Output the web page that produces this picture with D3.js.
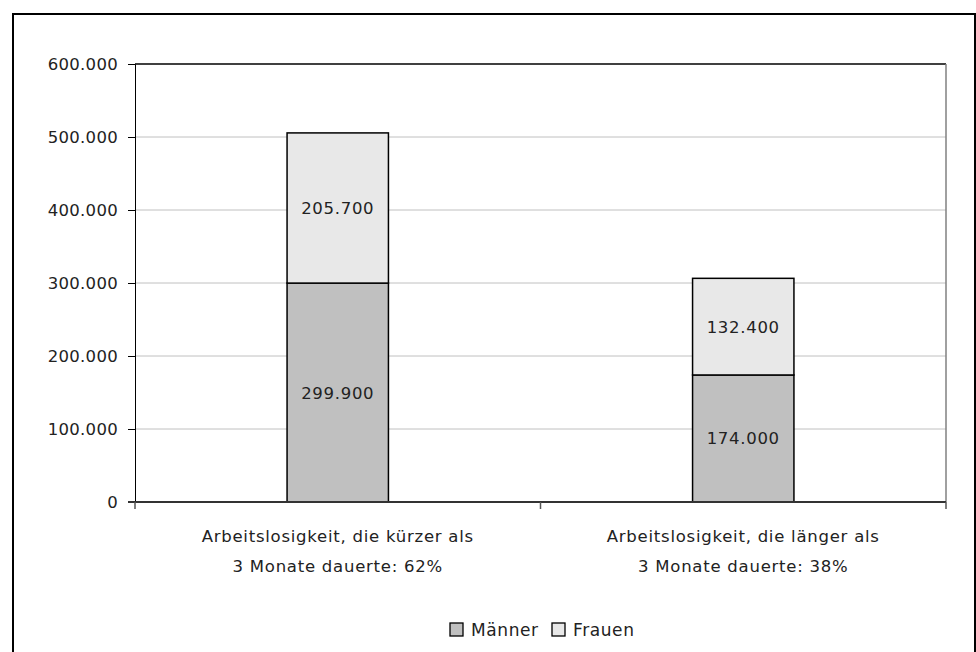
<!DOCTYPE html>
<html>
<head>
<meta charset="utf-8">
<script src="https://cdn.jsdelivr.net/npm/d3@7.9.0/dist/d3.min.js"></script>
<style>
  body { margin: 0; background: #fff; }
  svg { display: block; font-family: "DejaVu Sans", "Liberation Sans", sans-serif; }
</style>
</head>
<body>
<svg id="chart" width="976" height="652"></svg>
<script>
// categories and series values
const categories = [
  ["Arbeitslosigkeit, die kürzer als", "3 Monate dauerte: 62%"],
  ["Arbeitslosigkeit, die länger als", "3 Monate dauerte: 38%"],
];
const maenner = [299900, 174000];
const frauen = [205700, 132400];
const seriesNames = ["Männer", "Frauen"];
const yTicks = [0, 100000, 200000, 300000, 400000, 500000, 600000];

const colors = ["#c0c0c0", "#e8e8e8"];
const fmt = (v) => d3.format(",")(v).replace(/,/g, ".");
const fontFam = "'DejaVu Sans', 'Liberation Sans', sans-serif";

const svg = d3.select("#chart");

// outer frame (open at the bottom)
svg.append("path")
  .attr("d", "M13,652 V14 H975 V652")
  .attr("fill", "none")
  .attr("stroke", "#000")
  .attr("stroke-width", 2);

const plotL = 135, plotR = 946, plotT = 64, plotB = 502;

const x = d3.scaleBand().domain(d3.range(categories.length)).range([plotL, plotR]);
const y = d3.scaleLinear().domain([0, 600000]).range([plotB, plotT]);

// gridlines
svg.append("g")
  .selectAll("line")
  .data(yTicks.slice(1, -1))
  .join("line")
  .attr("x1", plotL).attr("x2", plotR)
  .attr("y1", (d) => y(d)).attr("y2", (d) => y(d))
  .attr("stroke", "#c0c0c0");

// plot frame top + right
svg.append("line").attr("x1", plotL).attr("x2", plotR).attr("y1", plotT).attr("y2", plotT)
  .attr("stroke", "#000").attr("stroke-width", 1.5);
svg.append("line").attr("x1", plotR).attr("x2", plotR).attr("y1", plotT).attr("y2", plotB)
  .attr("stroke", "#808080").attr("stroke-width", 1.5);

// y axis
const yAxis = svg.append("g")
  .attr("transform", `translate(${plotL},0)`)
  .call(d3.axisLeft(y).tickValues(yTicks).tickFormat(fmt).tickSize(7).tickPadding(10));
yAxis.selectAll("path,line").attr("stroke", "#000");
yAxis.selectAll("text").attr("fill", "#222")
  .style("font-family", fontFam).style("font-size", "16.5px").style("letter-spacing", "0.3px");

// stacked bars
const stackData = categories.map((c, i) => ({ i, m: maenner[i], f: frauen[i] }));
const stack = d3.stack().keys(["m", "f"])(stackData);
const barW = x.bandwidth() * 0.25;

stack.forEach((layer, k) => {
  const g = svg.append("g");
  g.selectAll("rect")
    .data(layer)
    .join("rect")
    .attr("x", (d) => x(d.data.i) + (x.bandwidth() - barW) / 2)
    .attr("y", (d) => y(d[1]))
    .attr("width", barW)
    .attr("height", (d) => y(d[0]) - y(d[1]))
    .attr("fill", colors[k])
    .attr("stroke", "#000")
    .attr("stroke-width", 1.5);
  g.selectAll("text")
    .data(layer)
    .join("text")
    .attr("x", (d) => x(d.data.i) + x.bandwidth() / 2)
    .attr("y", (d) => (y(d[0]) + y(d[1])) / 2 + 6)
    .attr("text-anchor", "middle")
    .style("font-size", "16.5px")
    .style("letter-spacing", "0.7px")
    .attr("fill", "#222")
    .text((d) => fmt(d[1] - d[0]));
});

// x axis
svg.append("line").attr("x1", plotL - 7).attr("x2", plotR).attr("y1", plotB).attr("y2", plotB)
  .attr("stroke", "#333").attr("stroke-width", 2);
svg.append("g")
  .selectAll("line")
  .data(d3.range(categories.length + 1))
  .join("line")
  .attr("x1", (d) => plotL + d * x.step()).attr("x2", (d) => plotL + d * x.step())
  .attr("y1", plotB).attr("y2", plotB + 7)
  .attr("stroke", "#555").attr("stroke-width", 1.5);

svg.append("g")
  .selectAll("text")
  .data(categories)
  .join("text")
  .attr("text-anchor", "middle")
  .style("font-size", "16.5px")
  .style("letter-spacing", "0.75px")
  .attr("fill", "#222")
  .each(function (d, i) {
    d3.select(this).selectAll("tspan")
      .data(d)
      .join("tspan")
      .attr("x", x(i) + x.bandwidth() / 2)
      .attr("y", (t, j) => 542 + j * 30)
      .text((t) => t);
  });

// legend
const legend = svg.append("g").attr("transform", "translate(0,630)");
const legX = [450, 552];
seriesNames.forEach((name, k) => {
  legend.append("rect")
    .attr("x", legX[k]).attr("y", -7)
    .attr("width", 13).attr("height", 13)
    .attr("fill", colors[k]).attr("stroke", "#000").attr("stroke-width", 1.3);
  legend.append("text")
    .attr("x", legX[k] + 21).attr("y", 6)
    .style("font-size", "17px").style("letter-spacing", "0.6px").attr("fill", "#222")
    .text(name);
});
</script>
</body>
</html>
